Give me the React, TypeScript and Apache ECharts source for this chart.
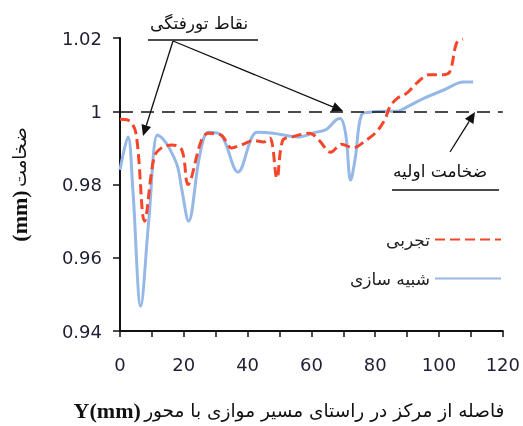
import React, { useEffect, useRef } from 'react';
import * as echarts from 'echarts';

const seriesNames = ['تجربی', 'شبیه سازی'];

const xExp = [0, 2.5, 5, 7.7, 10.7, 13, 16.3, 19.4, 21.3, 25.5, 27.7, 31.7, 35, 38, 42, 45, 47, 49.2, 51, 54, 59.4, 62.5, 66, 69.5, 73, 77, 80.3, 83, 84.6, 87, 90, 93, 97, 101.5, 103.5, 105.5, 107.5];
const yExp = [0.9978, 0.9976, 0.994, 0.970, 0.9875, 0.990, 0.9908, 0.9894, 0.980, 0.992, 0.994, 0.9935, 0.990, 0.9908, 0.992, 0.9916, 0.9927, 0.9817, 0.992, 0.993, 0.994, 0.992, 0.9888, 0.991, 0.990, 0.992, 0.9943, 0.9977, 1.0012, 1.0036, 1.005, 1.0077, 1.010, 1.010, 1.011, 1.0186, 1.0197];

const xSim = [0, 2.5, 4, 6.5, 9, 11.7, 13.2, 15.4, 18, 19.4, 21.5, 25, 27.7, 31.7, 37, 43, 48, 56, 61.5, 64.6, 67.7, 69, 70.7, 72.3, 73.8, 75.7, 78.8, 83, 87, 90, 95.4, 101.5, 107.7, 110.7];
const ySim = [0.984, 0.993, 0.979, 0.9468, 0.970, 0.9935, 0.9927, 0.990, 0.985, 0.9785, 0.970, 0.988, 0.9943, 0.9935, 0.9834, 0.9943, 0.994, 0.993, 0.9943, 0.995, 0.9976, 0.998, 0.994, 0.9812, 0.9875, 0.999, 0.9998, 1.0, 1.0, 1.0012, 1.0036, 1.0058, 1.008, 1.008];

const refValue = 1;
const annotTop = 'نقاط تورفتگی';
const annotRight = 'ضخامت اولیه';
const xTitleAr = 'فاصله از مرکز در راستای مسیر موازی با محور';
const xTitleEn = 'Y(mm)';
const yTitleAr = 'ضخامت';
const yTitleEn = '(mm)';

const AR_FONT = 'DejaVu Sans';

function arrow(x1: number, y1: number, x2: number, y2: number) {
  const ang = Math.atan2(y2 - y1, x2 - x1);
  const L = 11, W = 5;
  const bx = x2 - L * Math.cos(ang), by = y2 - L * Math.sin(ang);
  const px = -Math.sin(ang) * W, py = Math.cos(ang) * W;
  return [
    { type: 'line', shape: { x1, y1, x2: bx, y2: by }, style: { stroke: '#111', lineWidth: 1.3 } },
    { type: 'polygon', shape: { points: [[x2, y2], [bx + px, by + py], [bx - px, by - py]] }, style: { fill: '#111' } },
  ];
}

export default function App() {
  const ref = useRef<HTMLDivElement>(null);
  useEffect(() => {
    const chart = echarts.init(ref.current!, null, { renderer: 'svg' });
    const option: any = {
      animation: false,
      grid: { left: 117, top: 38, width: 390, height: 293, containLabel: false },
      legend: {
        data: seriesNames,
        orient: 'vertical',
        right: 16,
        top: 226,
        align: 'right',
        itemWidth: 66,
        itemHeight: 14,
        itemGap: 22,
        itemStyle: { opacity: 0 },
        textStyle: { fontFamily: AR_FONT, fontSize: 17, color: '#222' },
      },
      xAxis: {
        type: 'value',
        min: 0,
        max: 120,
        interval: 10,
        axisLine: { show: true, lineStyle: { color: '#111', width: 2 } },
        axisTick: { show: true, length: 6, lineStyle: { color: '#111', width: 1.5 } },
        splitLine: { show: false },
        axisLabel: {
          margin: 24,
          fontFamily: 'DejaVu Sans',
          fontSize: 18,
          color: '#1f1f33',
          formatter: (v: number) => (v % 20 === 0 ? String(v) : ''),
        },
      },
      yAxis: {
        type: 'value',
        min: 0.94,
        max: 1.02,
        interval: 0.02,
        axisLine: { show: true, lineStyle: { color: '#111', width: 2 } },
        axisTick: { show: true, length: 7, lineStyle: { color: '#111', width: 1.5 } },
        splitLine: { show: false },
        axisLabel: { margin: 18, fontFamily: 'DejaVu Sans', fontSize: 18, color: '#1f1f33' },
        name: `{b|${yTitleEn}} {a|${yTitleAr}}`,
        nameLocation: 'middle',
        nameGap: 90,
        nameRotate: 90,
        nameTextStyle: {
          rich: {
            a: { fontFamily: AR_FONT, fontSize: 18, color: '#111' },
            b: { fontFamily: 'Liberation Serif', fontWeight: 'bold', fontSize: 22, color: '#111' },
          },
        },
      },
      series: [
        {
          name: seriesNames[0],
          type: 'line',
          data: xExp.map((x, i) => [x, yExp[i]]),
          smooth: 0.35,
          symbol: 'circle',
          showSymbol: false,
          z: 3,
          lineStyle: { color: '#F5452A', width: 3, type: [10, 5] },
          itemStyle: { color: '#F5452A' },
        },
        {
          name: seriesNames[1],
          type: 'line',
          data: xSim.map((x, i) => [x, ySim[i]]),
          smooth: 0.35,
          symbol: 'circle',
          showSymbol: false,
          z: 2,
          lineStyle: { color: '#95B8E6', width: 3 },
          itemStyle: { color: '#95B8E6' },
          markLine: {
            silent: true,
            symbol: 'none',
            label: { show: false },
            lineStyle: { color: '#111', type: [13, 8], width: 1.5 },
            data: [{ yAxis: refValue }],
          },
        },
      ],
      graphic: [
        { type: 'text', left: 150, top: 14, style: { text: annotTop, font: `17px "${AR_FONT}"`, fill: '#111' } },
        { type: 'line', shape: { x1: 148, y1: 40, x2: 258, y2: 40 }, style: { stroke: '#111', lineWidth: 1.5 } },
        ...arrow(173, 41, 143, 136),
        ...arrow(173, 41, 343, 111),
        { type: 'text', left: 393, top: 162, style: { text: annotRight, font: `17px "${AR_FONT}"`, fill: '#111' } },
        { type: 'line', shape: { x1: 392, y1: 190, x2: 499, y2: 190 }, style: { stroke: '#111', lineWidth: 1.5 } },
        ...arrow(450, 152, 475, 112),
        {
          type: 'text',
          x: 289,
          y: 410,
          style: {
            text: `{b|${xTitleEn}} {a|${xTitleAr}}`,
            align: 'center',
            verticalAlign: 'middle',
            rich: {
              a: { fontFamily: AR_FONT, fontSize: 18.5, fill: '#111', color: '#111' },
              b: { fontFamily: 'Liberation Serif', fontWeight: 'bold', fontSize: 22, fill: '#111', color: '#111' },
            },
          },
        },
      ],
    };
    chart.setOption(option);
    return () => chart.dispose();
  }, []);
  return <div ref={ref} style={{ position: 'fixed', left: 0, top: 0, width: 523, height: 426 }} />;
}
